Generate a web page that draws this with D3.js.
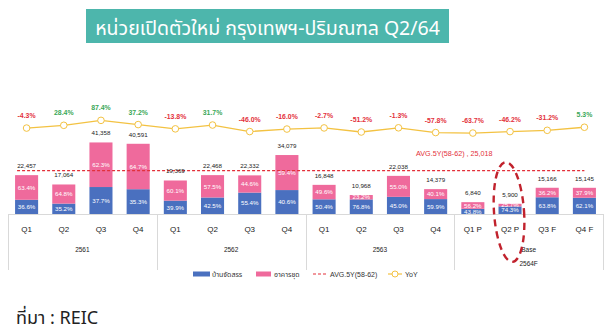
<!DOCTYPE html>
<html><head><meta charset="utf-8">
<script src="https://cdn.jsdelivr.net/npm/d3@7/dist/d3.min.js"></script>
<style>body{margin:0;background:#fff}</style></head>
<body>
<svg id="c" width="610" height="336"></svg>
<script>
const years = ["2561","2562","2563","2564F"];
const quarters = ["Q1","Q2","Q3","Q4","Q1","Q2","Q3","Q4","Q1","Q2","Q3","Q4","Q1 P","Q2 P","Q3 F","Q4 F"];
const totals = [22457,17064,41358,40591,19369,22468,22332,34079,16848,10968,22038,14379,6840,5900,15166,15145];
const housePct = [36.6,35.2,37.7,35.3,39.9,42.5,55.4,40.6,50.4,76.8,45.0,59.9,43.8,74.3,63.8,62.1];
const condoPct = [63.4,64.8,62.3,64.7,60.1,57.5,44.6,59.4,49.6,23.2,55.0,40.1,56.2,25.7,36.2,37.9];
const yoy = [-4.3,28.4,87.4,37.2,-13.8,31.7,-46.0,-16.0,-2.7,-51.2,-1.3,-57.8,-63.7,-46.2,-31.2,5.3];
const avg5y = 25018;
const seriesNames = ["บ้านจัดสรร","อาคารชุด","AVG.5Y(58-62)","YoY"];
const title = "หน่วยเปิดตัวใหม่ กรุงเทพฯ-ปริมณฑล Q2/64";
const source = "ที่มา : REIC";

const BLUE="#4a70bf", PINK="#ef6a9c", RED="#e3303a", GREEN="#3aa757", GOLD="#f3c242", GRID="#d9d9d9";
const numFont = "'Liberation Sans', Arial, sans-serif";
const thaiFont = "'Noto Sans Thai','Noto Sans','Open Sans',sans-serif";

const svg = d3.select("#c");
const idx = d3.range(quarters.length);
const x = d3.scaleBand().domain(idx).range([8,603]).paddingInner(0.38).paddingOuter(0.19);
const y = d3.scaleLinear().domain([0,50000]).range([214,127.5]);
const yy = d3.scaleLinear().domain([-100,100]).range([136.1,119.3]);
const bw = x.bandwidth(), step = x.step();

// title
svg.append("rect").attr("x",86).attr("y",9).attr("width",363).attr("height",34).attr("fill","#4db6ac");
svg.append("text").attr("x",267.5).attr("y",34.5).attr("text-anchor","middle")
  .attr("font-family",thaiFont).attr("font-size",19.5).attr("fill","#fff").text(title);

// axis line & separators
svg.append("line").attr("x1",8).attr("x2",603).attr("y1",y(0)+0.5).attr("y2",y(0)+0.5).attr("stroke",GRID);
for(let g=0; g<=years.length; g++){
  const gx = Math.round(x.range()[0] + 4*g*step)+0.5;
  svg.append("line").attr("x1",gx).attr("x2",gx).attr("y1",y(0)).attr("y2",270).attr("stroke",GRID);
}
years.forEach((yr,g)=>{
  const cx = x.range()[0] + (4*g+2)*step;
  if(g<3){
    svg.append("text").attr("x",cx).attr("y",251.5).attr("text-anchor","middle")
      .attr("font-family",numFont).attr("font-size",6.5).attr("fill","#222").text(yr);
  } else {
    svg.append("text").attr("x",cx).attr("y",251.5).attr("text-anchor","middle")
      .attr("font-family",numFont).attr("font-size",6.5).attr("fill","#222").text("Base");
    svg.append("text").attr("x",cx).attr("y",265.5).attr("text-anchor","middle")
      .attr("font-family",numFont).attr("font-size",6.5).attr("fill","#222").text(yr);
  }
});
// quarter labels
svg.append("g").selectAll("text").data(idx).join("text")
  .attr("x",i=>x(i)+bw/2).attr("y",231.5).attr("text-anchor","middle")
  .attr("font-family",numFont).attr("font-size",8).attr("fill","#222").text(i=>quarters[i]);

// bars
const houseTop = i => y(totals[i]*housePct[i]/100);
svg.append("g").selectAll("rect").data(idx).join("rect")
  .attr("x",i=>x(i)).attr("width",bw).attr("y",houseTop).attr("height",i=>y(0)-houseTop(i)).attr("fill",BLUE);
svg.append("g").selectAll("rect").data(idx).join("rect")
  .attr("x",i=>x(i)).attr("width",bw).attr("y",i=>y(totals[i])).attr("height",i=>houseTop(i)-y(totals[i])).attr("fill",PINK);

// avg line
svg.append("line").attr("x1",x(0)+2).attr("x2",x(idx.length-1)+bw/2)
  .attr("y1",y(avg5y)).attr("y2",y(avg5y)).attr("stroke",RED).attr("stroke-width",1.2).attr("stroke-dasharray","3,2");
svg.append("text").attr("x",416).attr("y",y(avg5y)-14.5).attr("font-family",numFont).attr("font-size",7.2)
  .attr("fill",RED).text(seriesNames[2]+" ,  "+d3.format(",")(avg5y));

// pct labels
const small = i => condoPct[i] < 25.5 && totals[i] < 8000;
svg.append("g").selectAll("text").data(idx).join("text")
  .attr("x",i=>x(i)+bw/2).attr("y",i=>small(i)? y(0)-0.2 : (y(0)+houseTop(i))/2+2.2).attr("text-anchor","middle")
  .attr("font-family",numFont).attr("font-size",i=>small(i)?5:6.2).attr("fill","#fff").text(i=>housePct[i].toFixed(1)+"%");
svg.append("g").selectAll("text").data(idx).join("text")
  .attr("x",i=>x(i)+bw/2).attr("y",i=>small(i)? houseTop(i)-2.2 : (houseTop(i)+y(totals[i]))/2+2.2).attr("text-anchor","middle")
  .attr("font-family",numFont).attr("font-size",i=>small(i)?5:6.2).attr("fill",i=>small(i)?"#333":"#fff")
  .text(i=>condoPct[i].toFixed(1)+"%");
// totals
svg.append("g").selectAll("text").data(idx).join("text")
  .attr("x",i=>x(i)+bw/2).attr("y",i=>y(totals[i])-7).attr("text-anchor","middle")
  .attr("font-family",numFont).attr("font-size",6.2).attr("fill","#222").text(i=>d3.format(",")(totals[i]));

// yoy line
const line = d3.line().x(i=>x(i)+bw/2).y(i=>yy(yoy[i]));
svg.append("path").attr("d",line(idx)).attr("fill","none").attr("stroke",GOLD).attr("stroke-width",1.3);
svg.append("g").selectAll("circle").data(idx).join("circle")
  .attr("cx",i=>x(i)+bw/2).attr("cy",i=>yy(yoy[i])).attr("r",3.3)
  .attr("fill","#fff").attr("stroke",GOLD).attr("stroke-width",1);
svg.append("g").selectAll("text").data(idx).join("text")
  .attr("x",i=>x(i)+bw/2).attr("y",i=>yy(yoy[i])-10).attr("text-anchor","middle")
  .attr("font-family",numFont).attr("font-size",6.9).attr("font-weight","bold").attr("fill",i=>yoy[i]<0?RED:GREEN)
  .text(i=>yoy[i].toFixed(1)+"%");

// ellipse highlight
const ec = x(13)+bw/2;
svg.append("ellipse").attr("cx",0).attr("cy",0).attr("rx",15).attr("ry",50)
  .attr("transform",`translate(${ec-1},212) rotate(-4)`)
  .attr("fill","none").attr("stroke","#c1222d").attr("stroke-width",2.4).attr("stroke-dasharray","7,5");

// legend
const lg = svg.append("g").attr("font-size",7).attr("fill","#333");
lg.append("rect").attr("x",193).attr("y",271.5).attr("width",17).attr("height",5).attr("fill",BLUE);
lg.append("text").attr("x",212).attr("y",276.5).attr("font-family",thaiFont).text(seriesNames[0]);
lg.append("rect").attr("x",256).attr("y",271.5).attr("width",15).attr("height",5).attr("fill",PINK);
lg.append("text").attr("x",274).attr("y",276.5).attr("font-family",thaiFont).text(seriesNames[1]);
lg.append("line").attr("x1",313).attr("x2",327).attr("y1",274).attr("y2",274).attr("stroke",RED).attr("stroke-width",1.2).attr("stroke-dasharray","3,2");
lg.append("text").attr("x",330).attr("y",276.5).attr("font-family",numFont).text(seriesNames[2]);
lg.append("line").attr("x1",388).attr("x2",402).attr("y1",274).attr("y2",274).attr("stroke",GOLD).attr("stroke-width",1.2);
lg.append("circle").attr("cx",395).attr("cy",274).attr("r",3).attr("fill","#fff").attr("stroke",GOLD);
lg.append("text").attr("x",405).attr("y",276.5).attr("font-family",numFont).text(seriesNames[3]);

// source
svg.append("text").attr("x",16).attr("y",324).attr("font-family",thaiFont).attr("font-size",18).attr("fill","#222").text(source);
</script>
</body></html>
